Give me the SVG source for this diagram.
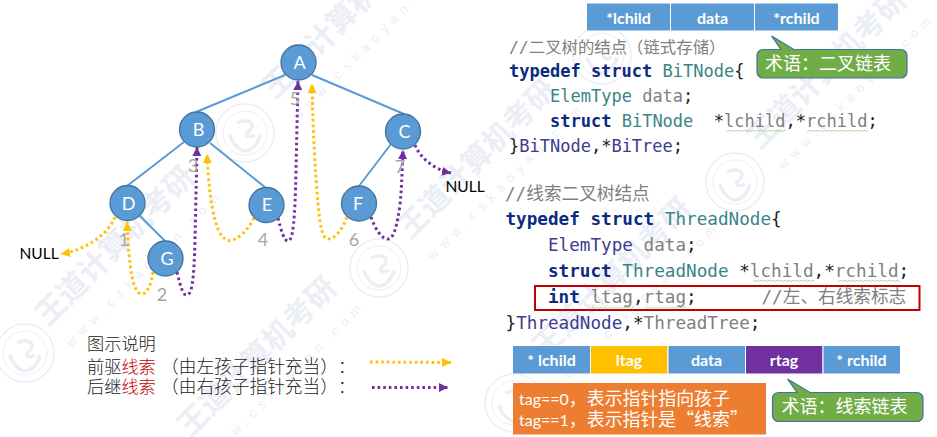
<svg xmlns="http://www.w3.org/2000/svg" xmlns:xlink="http://www.w3.org/1999/xlink" width="937" height="437" viewBox="0 0 937 437">
<style>
text{font-family:"Lato","Noto Sans CJK SC",sans-serif;text-spacing-trim:space-all}
.wm{font-family:"Noto Sans CJK SC",sans-serif;font-weight:700;font-size:30px;fill:#eceef6}
.wms{font-family:"Liberation Sans",sans-serif;font-size:13px;fill:#eceef6}
.logo{fill:none;stroke:#eceef6}
.edge{fill:none;stroke:#5B9BD5;stroke-width:2}
.th{fill:none;stroke-width:3;stroke-dasharray:2.6 3}
.pre{stroke:#FFC000;marker-end:url(#ay)}
.suc{stroke:#7030A0;marker-end:url(#ap)}
.n{fill:#5B9BD5;stroke:#41719C;stroke-width:1.3}
.nl{font-size:18px;fill:#fff;text-anchor:middle}
.num{font-size:18px;fill:#a6a6a6;text-anchor:middle}
.null{font-size:15.5px;fill:#000}
.leg{font-family:"Noto Sans CJK SC",sans-serif;font-weight:300;font-size:17.2px;fill:#222}
.lp{font-size:17.7px}
.cell{stroke:#fff;stroke-width:1;fill:#5B9BD5}
.ct{font-size:16px;font-weight:700;fill:#fff;text-anchor:middle}
.code{font-family:"DejaVu Sans Mono","Noto Sans CJK SC",monospace;font-size:17px;fill:#222;white-space:pre}
.c2{font-size:17.65px}
.kw{font-weight:700;fill:#0b2a80}
.ty{fill:#3a8585}
.tp{fill:#3d3d8f}
.g{fill:#808080}
.cm{fill:#808080}
.call{fill:#70AD47;stroke:#41719C;stroke-width:1.2}
.ctx{font-family:"Noto Sans CJK SC",sans-serif;font-size:18px;fill:#fff}
.tag{font-size:16px;fill:#fff}
.cj{font-family:"Noto Sans CJK SC",sans-serif;font-size:17.9px}
</style>
<defs>
<marker id="ay" markerUnits="userSpaceOnUse" markerWidth="10" markerHeight="10" refX="9" refY="4.5" orient="auto"><path d="M0 0L9 4.5L0 9z" fill="#FFC000"/></marker>
<marker id="ap" markerUnits="userSpaceOnUse" markerWidth="10" markerHeight="10" refX="9" refY="4.5" orient="auto"><path d="M0 0L9 4.5L0 9z" fill="#7030A0"/></marker>
<pattern id="sq" width="4" height="3" patternUnits="userSpaceOnUse"><path d="M0 2L1 1L3 2.5L4 2" fill="none" stroke="#93c47d" stroke-width=".7"/></pattern>
<g id="band"><text class="wm" x="0" y="0">王道计算机考研</text><text class="wms" x="2" y="31" textLength="210" lengthAdjust="spacing">www.cskaoyan.com</text></g>
<g id="seal"><circle class="logo" r="29" stroke-width="1.5"/><circle class="logo" r="22" stroke-width="1"/><path class="logo" stroke-width="3.5" d="M-8-10C4-16 12-8 4-2C-2 2 4 6 10 2M-15 2C-12 14-2 18 0 18C4 18 12 14 15 2"/></g>
</defs>
<g id="watermark">
<use xlink:href="#band" href="#band" transform="translate(48 327) rotate(-45)"/>
<use xlink:href="#band" href="#band" transform="translate(275 100) rotate(-45)"/>
<use xlink:href="#band" href="#band" transform="translate(410 240) rotate(-45)"/>
<use xlink:href="#band" href="#band" transform="translate(190 438) rotate(-45)"/>
<use xlink:href="#band" href="#band" transform="translate(545 359) rotate(-45)"/>
<use xlink:href="#band" href="#band" transform="translate(760 150) rotate(-45)"/>
<use xlink:href="#seal" href="#seal" x="245" y="133"/>
<use xlink:href="#seal" href="#seal" x="379" y="268"/>
<use xlink:href="#seal" href="#seal" x="25" y="353"/>
<use xlink:href="#seal" href="#seal" x="735" y="182"/>
<use xlink:href="#seal" href="#seal" x="514" y="403"/>
<use xlink:href="#seal" href="#seal" x="602" y="55"/>
</g>
<g id="connectors">
<path class="edge" d="M285 75L196 112M312 75L404 114M184 142L127 186M210 143L266 188M140 216L165 241M391 144L359 186"/>
<path class="th pre" d="M115 217C108 235 85 250 61 254"/>
<path class="th pre" d="M153 272C151 285 147 295 141 294C133 292 129 270 127 222"/>
<path class="th suc" d="M177 272C180 285 183 296 187 295C192 294 194 280 195 240L197 147"/>
<path class="th pre" d="M254 218C248 230 238 240 230 240.500C218 241 210 215 207 154"/>
<path class="th suc" d="M278 218C281 230 284 241 288 241C293 241 295 220 296 170L298 81"/>
<path class="th pre" d="M347 217C342 230 335 239 328 239C322 239 320 225 318 203C315 170 313 130 312 84"/>
<path class="th suc" d="M371 217C375 228 381 239 388 239C394 239 397 225 400 205C402 185 402 170 403 150"/>
<path class="th suc" d="M415 145C420 158 435 170 451 173"/>
<path class="th pre" d="M370 362L451 362.500"/>
<path class="th suc" d="M372 387.500L448 387.500"/>
</g>
<g id="node-A"><circle class="n" cx="298.500" cy="62.500" r="17.500"/><text class="nl" x="299.500" y="69">A</text></g>
<g id="node-B"><circle class="n" cx="197" cy="129.500" r="17.500"/><text class="nl" x="198.500" y="136">B</text></g>
<g id="node-C"><circle class="n" cx="403" cy="131.500" r="17.500"/><text class="nl" x="404.500" y="138">C</text></g>
<g id="node-D"><circle class="n" cx="127.500" cy="203" r="17.500"/><text class="nl" x="128.500" y="210">D</text></g>
<g id="node-E"><circle class="n" cx="266.500" cy="205" r="17.500"/><text class="nl" x="267" y="211">E</text></g>
<g id="node-F"><circle class="n" cx="359" cy="203.500" r="17.500"/><text class="nl" x="358" y="210">F</text></g>
<g id="node-G"><circle class="n" cx="165.500" cy="258.500" r="17.500"/><text class="nl" x="167" y="265">G</text></g>
<g id="labels">
<text class="num" x="124" y="246">1</text><text class="num" x="162" y="301">2</text><text class="num" x="193" y="172">3</text><text class="num" x="263" y="246">4</text><text class="num" x="295" y="105">5</text><text class="num" x="354" y="246">6</text><text class="num" x="400" y="173">7</text>
<text class="null" x="19.500" y="258.500">NULL</text><text class="null" x="445.500" y="191.500">NULL</text>
</g>
<g id="legend">
<text class="leg" x="87" y="350">图示说明</text>
<text class="leg" x="87" y="372.500">前驱<tspan fill="#C00000">线索</tspan><tspan class="lp" x="161">（由左孩子指针充当）</tspan><tspan x="338">：</tspan></text>
<text class="leg" x="87" y="393">后继<tspan fill="#C00000">线索</tspan><tspan class="lp" x="161">（由右孩子指针充当）</tspan><tspan x="338">：</tspan></text>
</g>
<g id="table-top">
<rect class="cell" x="586.500" y="3" width="84" height="28"/><rect class="cell" x="670.500" y="3" width="84" height="28"/><rect class="cell" x="754.500" y="3" width="84" height="28"/>
<text class="ct" x="628.500" y="24">*lchild</text><text class="ct" x="712.500" y="24">data</text><text class="ct" x="796.500" y="24">*rchild</text>
</g>
<g id="callout-top"><path class="call" d="M771.500 36L794 49.500H901a6 6 0 0 1 6 6V72a6 6 0 0 1-6 6H763a6 6 0 0 1-6-6V55.500a6 6 0 0 1 6-6H781z"/><text class="ctx" x="765" y="70">术语：二叉链表</text></g>
<g id="code-top">
<text class="code cm" x="509" y="52.500" style="font-size:16.400px">//二叉树的结点（链式存储）</text>
<text class="code" x="509" y="76.500" xml:space="preserve"><tspan class="kw">typedef struct</tspan> <tspan class="ty">BiTNode</tspan>{</text>
<text class="code" x="550" y="101.500" xml:space="preserve"><tspan class="ty">ElemType</tspan> <tspan class="g">data</tspan>;</text>
<text class="code" x="550" y="126.500" xml:space="preserve"><tspan class="kw">struct</tspan> <tspan class="ty">BiTNode</tspan>  *<tspan class="g">lchild</tspan>,*<tspan class="g">rchild</tspan>;</text>
<text class="code" x="509" y="151.500" xml:space="preserve">}<tspan class="tp">BiTNode</tspan>,*<tspan class="tp">BiTree</tspan>;</text>
<rect x="726.500" y="129" width="59" height="3" fill="url(#sq)"/><rect x="807" y="129" width="61" height="3" fill="url(#sq)"/>
</g>
<g id="code-thread">
<text class="code c2 cm" x="505" y="200">//线索二叉树结点</text>
<text class="code c2" x="505.500" y="225" xml:space="preserve"><tspan class="kw">typedef struct</tspan> <tspan class="ty">ThreadNode</tspan>{</text>
<text class="code c2" x="548" y="251" xml:space="preserve"><tspan class="tp">ElemType</tspan> <tspan class="g">data</tspan>;</text>
<text class="code c2" x="548" y="276.500" xml:space="preserve"><tspan class="kw">struct</tspan> <tspan class="ty">ThreadNode</tspan> *<tspan class="g">lchild</tspan>,*<tspan class="g">rchild</tspan>;</text>
<text class="code c2" x="548" y="303" xml:space="preserve"><tspan class="kw">int</tspan> <tspan class="g">ltag</tspan>,<tspan class="g">rtag</tspan>;</text>
<text class="code c2 cm" x="761.500" y="303">//左、右线索标志</text>
<text class="code c2" x="505.500" y="329" xml:space="preserve">}<tspan class="tp">ThreadNode</tspan>,*<tspan class="g">ThreadTree</tspan>;</text>
<rect x="753" y="279" width="62" height="3" fill="url(#sq)"/><rect x="838" y="279" width="62" height="3" fill="url(#sq)"/><rect x="592" y="305.500" width="41" height="3" fill="url(#sq)"/><rect x="645" y="305.500" width="42" height="3" fill="url(#sq)"/>
<rect x="535" y="286" width="384.500" height="24" fill="none" stroke="#C00000" stroke-width="2"/>
</g>
<g id="table-thread">
<rect class="cell" x="512.500" y="345.500" width="78" height="28.500"/><rect class="cell" x="590.500" y="345.500" width="77.500" height="28.500" style="fill:#FFC000"/><rect class="cell" x="668" y="345.500" width="77.500" height="28.500"/><rect class="cell" x="745.500" y="345.500" width="77.500" height="28.500" style="fill:#7030A0"/><rect class="cell" x="823" y="345.500" width="77.500" height="28.500"/>
<text class="ct" x="551.500" y="366">* lchild</text><text class="ct" x="629" y="366">ltag</text><text class="ct" x="706.500" y="366">data</text><text class="ct" x="784" y="366">rtag</text><text class="ct" x="861.500" y="366">* rchild</text>
</g>
<g id="tag-note">
<rect x="513" y="383" width="253" height="51.500" fill="#ED7D31"/>
<text class="tag" x="519" y="405">tag==0<tspan class="cj">，表示指针指向孩子</tspan></text>
<text class="tag" x="519" y="426">tag==1<tspan class="cj">，表示指针是“线索”</tspan></text>
</g>
<g id="callout-bottom"><path class="call" d="M787.500 379L810 392.500H917a6 6 0 0 1 6 6V415.500a6 6 0 0 1-6 6H778.500a6 6 0 0 1-6-6V398.500a6 6 0 0 1 6-6H797z"/><text class="ctx" x="781.500" y="413">术语：线索链表</text></g>
</svg>
